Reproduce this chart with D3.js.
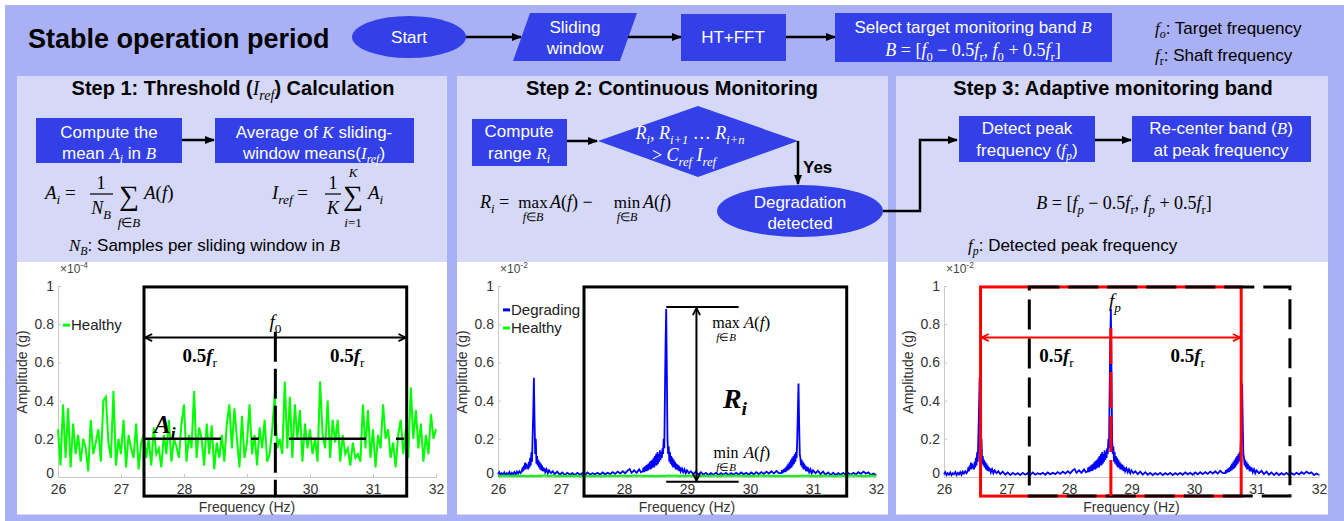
<!DOCTYPE html>
<html>
<head>
<meta charset="utf-8">
<script src="https://cdn.jsdelivr.net/npm/d3@7"></script>
<style>
  body { margin: 0; background: #fff; }
</style>
</head>
<body>
<svg id="fig" width="1344" height="521"></svg>
<script>
const SANS = '"Liberation Sans", Arial, sans-serif';
const SERIF = '"Liberation Serif", "Times New Roman", serif';
const BG = "#aab0f4", PANEL = "#d6d8f8", BOX = "#3340e8";

// ---- data ----
const freqTicks = [26, 27, 28, 29, 30, 31, 32];
const ampTicks = [0, 0.2, 0.4, 0.6, 0.8, 1];
const ampTickLabels = ["0", "0.2", "0.4", "0.6", "0.8", "1"];

// healthy spectrum (x1e-4 g), one sample every 0.04 Hz from 26 Hz
const healthyStart = 26, healthyStep = 0.04;
const healthyAmp = [
  0.25, 0.06, 0.38, 0.10, 0.36, 0.05, 0.28, 0.12, 0.22, 0.08,
  0.20, 0.15, 0.03, 0.30, 0.12, 0.18, 0.25, 0.08, 0.40, 0.42,
  0.18, 0.10, 0.45, 0.06, 0.20, 0.12, 0.30, 0.05, 0.22, 0.15,
  0.10, 0.28, 0.04, 0.18, 0.22, 0.10, 0.20, 0.06, 0.26, 0.12,
  0.15, 0.05, 0.22, 0.12, 0.30, 0.08, 0.20, 0.16, 0.10, 0.28,
  0.38, 0.08, 0.22, 0.15, 0.45, 0.10, 0.26, 0.20, 0.06, 0.28,
  0.12, 0.27, 0.04, 0.18, 0.10, 0.22, 0.08, 0.28, 0.38, 0.15,
  0.36, 0.20, 0.05, 0.32, 0.10, 0.18, 0.38, 0.12, 0.22, 0.06,
  0.26, 0.15, 0.30, 0.08, 0.12, 0.25, 0.43, 0.15, 0.20, 0.12,
  0.50, 0.15, 0.42, 0.10, 0.38, 0.20, 0.35, 0.08, 0.28, 0.15,
  0.25, 0.12, 0.20, 0.08, 0.50, 0.22, 0.15, 0.40, 0.10, 0.30,
  0.18, 0.30, 0.08, 0.22, 0.12, 0.15, 0.06, 0.18, 0.10, 0.12,
  0.08, 0.38, 0.15, 0.35, 0.10, 0.25, 0.05, 0.22, 0.15, 0.38,
  0.20, 0.25, 0.10, 0.18, 0.05, 0.22, 0.30, 0.12, 0.25, 0.10,
  0.47, 0.20, 0.35, 0.15, 0.28, 0.08, 0.22, 0.12, 0.33, 0.20,
  0.25
];

// degrading spectrum (x1e-2 g), [frequency Hz, amplitude]
const degrading = [
  [26.00,0.015],[26.02,0.025],[26.04,0.01],[26.06,0.02],[26.08,0.012],[26.10,0.024],[26.12,0.01],[26.14,0.02],
  [26.16,0.015],[26.18,0.026],[26.20,0.01],[26.22,0.022],[26.24,0.014],[26.26,0.025],[26.28,0.012],[26.30,0.028],
  [26.32,0.018],[26.34,0.03],[26.36,0.02],
  [26.38,0.03],[26.39,0.05],[26.40,0.03],[26.41,0.06],[26.42,0.04],[26.43,0.075],[26.44,0.04],[26.45,0.07],
  [26.46,0.05],[26.47,0.06],[26.48,0.04],[26.49,0.08],[26.50,0.05],[26.51,0.1],[26.52,0.06],[26.53,0.13],
  [26.54,0.08],[26.55,0.22],[26.56,0.35],[26.57,0.52],[26.58,0.3],[26.59,0.12],[26.60,0.2],[26.61,0.07],
  [26.62,0.11],[26.63,0.06],[26.64,0.09],[26.65,0.05],[26.66,0.08],[26.67,0.04],[26.68,0.07],[26.69,0.035],
  [26.70,0.06],[26.71,0.03],[26.72,0.05],[26.73,0.03],[26.74,0.045],[26.75,0.025],[26.77,0.04],[26.79,0.02],
  [26.81,0.035],[26.84,0.02],[26.87,0.03],
  [26.90,0.015],[26.94,0.028],[26.98,0.012],[27.02,0.024],[27.06,0.01],[27.10,0.022],[27.14,0.012],[27.18,0.02],
  [27.22,0.01],[27.26,0.022],[27.30,0.012],[27.34,0.02],[27.38,0.01],[27.42,0.024],[27.46,0.012],[27.50,0.02],
  [27.54,0.014],[27.58,0.022],[27.62,0.012],[27.66,0.024],[27.70,0.014],[27.74,0.022],[27.78,0.015],[27.82,0.026],
  [27.86,0.016],[27.90,0.028],[27.94,0.018],[27.98,0.03],[28.02,0.02],[28.06,0.035],[28.09,0.042],[28.12,0.022],
  [28.16,0.035],[28.20,0.022],[28.24,0.04],[28.27,0.025],
  [28.30,0.03],[28.31,0.05],[28.32,0.025],[28.33,0.055],[28.34,0.03],[28.35,0.06],[28.36,0.03],[28.37,0.065],
  [28.38,0.035],[28.39,0.07],[28.40,0.04],[28.41,0.08],[28.42,0.04],[28.43,0.085],[28.44,0.045],[28.45,0.09],
  [28.46,0.05],[28.47,0.1],[28.48,0.05],[28.49,0.11],[28.50,0.06],[28.51,0.12],[28.52,0.06],[28.53,0.13],
  [28.54,0.07],[28.55,0.12],[28.56,0.08],[28.57,0.14],[28.58,0.09],[28.59,0.13],[28.60,0.1],[28.61,0.15],
  [28.62,0.12],[28.63,0.2],[28.64,0.15],[28.65,0.45],[28.66,0.7],[28.67,0.88],[28.68,0.55],[28.69,0.2],
  [28.70,0.12],[28.71,0.16],[28.72,0.08],[28.73,0.13],[28.74,0.07],[28.75,0.11],[28.76,0.06],[28.77,0.1],
  [28.78,0.05],[28.79,0.09],[28.80,0.05],[28.81,0.08],[28.82,0.04],[28.83,0.07],[28.84,0.04],[28.85,0.065],
  [28.86,0.035],[28.87,0.06],[28.88,0.03],[28.89,0.05],[28.90,0.03],[28.92,0.045],[28.94,0.025],[28.96,0.04],
  [28.98,0.02],[29.00,0.035],[29.03,0.02],[29.06,0.03],
  [29.10,0.015],[29.14,0.028],[29.18,0.012],[29.22,0.025],[29.26,0.012],[29.30,0.022],[29.34,0.01],[29.38,0.02],
  [29.42,0.012],[29.46,0.022],[29.50,0.01],[29.54,0.02],[29.58,0.012],[29.62,0.022],[29.66,0.01],[29.70,0.02],
  [29.74,0.012],[29.78,0.022],[29.82,0.012],[29.86,0.024],[29.90,0.014],[29.94,0.022],[29.98,0.012],[30.02,0.024],
  [30.06,0.014],[30.10,0.025],[30.14,0.015],[30.18,0.026],[30.22,0.016],[30.26,0.028],[30.30,0.018],[30.34,0.03],
  [30.38,0.018],[30.42,0.032],[30.46,0.02],
  [30.50,0.02],[30.51,0.035],[30.52,0.02],[30.53,0.04],[30.54,0.025],[30.55,0.045],[30.56,0.025],[30.57,0.05],
  [30.58,0.03],[30.59,0.06],[30.60,0.035],[30.61,0.07],[30.62,0.04],[30.63,0.08],[30.64,0.045],[30.65,0.09],
  [30.66,0.05],[30.67,0.1],[30.68,0.06],[30.69,0.11],[30.70,0.07],[30.71,0.12],[30.72,0.08],[30.73,0.13],
  [30.74,0.1],[30.75,0.2],[30.76,0.35],[30.77,0.49],[30.78,0.28],[30.79,0.12],[30.80,0.1],[30.81,0.06],
  [30.82,0.09],[30.83,0.05],[30.84,0.08],[30.85,0.04],[30.86,0.07],[30.87,0.04],[30.88,0.06],[30.89,0.03],
  [30.90,0.055],[30.91,0.03],[30.92,0.05],[30.94,0.025],[30.96,0.04],[30.98,0.02],[31.00,0.035],
  [31.04,0.02],[31.08,0.032],[31.12,0.015],[31.16,0.028],[31.20,0.012],[31.24,0.024],[31.28,0.01],[31.32,0.022],
  [31.36,0.01],[31.40,0.02],[31.44,0.012],[31.48,0.022],[31.52,0.01],[31.56,0.02],[31.60,0.012],[31.64,0.022],
  [31.68,0.014],[31.72,0.025],[31.76,0.016],[31.80,0.028],[31.84,0.018],[31.88,0.024],[31.92,0.01],[31.96,0.018],
  [32.00,0.01]
];

const f0 = 29.45, fr = 4.17, fp = 28.67;      // target, shaft and peak frequency (Hz)
const meanAmp = 0.2, maxAmp = 0.89, minAmp = -0.025;

const svg = d3.select("#fig");

// markers
const defs = svg.append("defs");
defs.append("marker").attr("id", "tri").attr("viewBox", "0 0 10 10")
  .attr("refX", 9).attr("refY", 5).attr("markerWidth", 4).attr("markerHeight", 4)
  .attr("orient", "auto-start-reverse")
  .append("path").attr("d", "M0,1L10,5L0,9Z").attr("fill", "#000");
[["chev", "#000"], ["chevRed", "#ff0000"]].forEach(([id, col]) => {
  defs.append("marker").attr("id", id).attr("viewBox", "0 0 10 10")
    .attr("refX", 9).attr("refY", 5).attr("markerWidth", 9).attr("markerHeight", 9)
    .attr("markerUnits", "userSpaceOnUse").attr("orient", "auto-start-reverse")
    .append("path").attr("d", "M1,1L9,5L1,9").attr("fill", "none")
    .attr("stroke", col).attr("stroke-width", 2);
});

// text with math pieces: [string, style]  M=serif i=italic b=bold _=sub ^=sup
function rich(g, x, y, parts, o = {}) {
  const size = o.size || 17;
  const t = g.append("text").attr("x", x).attr("y", y)
    .attr("text-anchor", o.anchor || "start")
    .attr("fill", o.fill || "#000")
    .attr("font-size", size);
  let shift = 0;
  parts.forEach(([str, st = ""]) => {
    const s = st.includes("_") ? 0.25 : st.includes("^") ? -0.4 : 0;
    const sp = t.append("tspan").text(str)
      .attr("font-family", st.includes("M") ? SERIF : SANS)
      .attr("font-style", st.includes("i") ? "italic" : "normal")
      .attr("font-weight", st.includes("b") || (o.bold && !st.includes("M")) ? "bold" : "normal")
      .attr("font-size", s ? size * 0.7 : size);
    if (s !== shift) sp.attr("dy", (s - shift) * size);
    shift = s;
  });
  return t;
}

function arrow(points, col = "#000", w = 2.5) {
  svg.append("path").attr("d", d3.line()(points)).attr("fill", "none")
    .attr("stroke", col).attr("stroke-width", w).attr("marker-end", "url(#tri)");
}

// ---- background and panels ----
svg.append("rect").attr("x", 5).attr("y", 5).attr("width", 1339).attr("height", 516).attr("fill", BG);
const panels = [[17, 447], [457, 888], [896, 1328]];
panels.forEach(([a, b]) => {
  svg.append("rect").attr("x", a).attr("y", 76).attr("width", b - a).attr("height", 439).attr("fill", PANEL);
  svg.append("rect").attr("x", a).attr("y", 262).attr("width", b - a).attr("height", 252).attr("fill", "#fff");
});

// ---- top flow ----
svg.append("text").attr("x", 28).attr("y", 48).text("Stable operation period")
  .attr("font-family", SANS).attr("font-weight", "bold").attr("font-size", 27);

svg.append("ellipse").attr("cx", 409).attr("cy", 37).attr("rx", 57).attr("ry", 21).attr("fill", BOX);
rich(svg, 409, 43, [["Start"]], { anchor: "middle", fill: "#fff" });
arrow([[466, 37], [521, 37]]);
svg.append("polygon").attr("points", "530,13 637,13 620,61 513,61").attr("fill", BOX);
rich(svg, 575, 33, [["Sliding"]], { anchor: "middle", fill: "#fff" });
rich(svg, 575, 54, [["window"]], { anchor: "middle", fill: "#fff" });
arrow([[628, 37], [681, 37]]);
svg.append("rect").attr("x", 681).attr("y", 14).attr("width", 105).attr("height", 47).attr("fill", BOX);
rich(svg, 733, 43, [["HT+FFT"]], { anchor: "middle", fill: "#fff" });
arrow([[786, 37], [835, 37]]);
svg.append("rect").attr("x", 835).attr("y", 13).attr("width", 277).attr("height", 49).attr("fill", BOX);
rich(svg, 973, 33, [["Select target monitoring band "], ["B", "Mi"]], { anchor: "middle", fill: "#fff" });
rich(svg, 973, 56, [["B", "Mi"], [" = [", "M"], ["f", "Mi"], ["0", "M_"], [" − 0.5", "M"], ["f", "Mi"], ["r", "M_"],
  [", ", "M"], ["f", "Mi"], ["0", "M_"], [" + 0.5", "M"], ["f", "Mi"], ["r", "M_"], ["]", "M"]],
  { anchor: "middle", fill: "#fff", size: 18 });
rich(svg, 1155, 34, [["f", "Mi"], ["o", "Mi_"], [": Target frequency"]]);
rich(svg, 1155, 61, [["f", "Mi"], ["r", "M_"], [": Shaft frequency"]]);

// ---- step titles ----
rich(svg, 233, 95, [["Step 1: Threshold ("], ["I", "Mi"], ["ref", "Mi_"], [") Calculation"]], { anchor: "middle", bold: true, size: 20 });
rich(svg, 672, 95, [["Step 2: Continuous Monitoring"]], { anchor: "middle", bold: true, size: 20 });
rich(svg, 1113, 95, [["Step 3: Adaptive monitoring band"]], { anchor: "middle", bold: true, size: 20 });

// ---- step 1 flow ----
svg.append("rect").attr("x", 36).attr("y", 118).attr("width", 146).attr("height", 45).attr("fill", BOX);
rich(svg, 109, 138, [["Compute the"]], { anchor: "middle", fill: "#fff" });
rich(svg, 109, 159, [["mean "], ["A", "Mi"], ["i", "Mi_"], [" in "], ["B", "Mi"]], { anchor: "middle", fill: "#fff" });
arrow([[182, 140], [214, 140]]);
svg.append("rect").attr("x", 215).attr("y", 118).attr("width", 199).attr("height", 45).attr("fill", BOX);
rich(svg, 314, 138, [["Average of "], ["K", "Mi"], [" sliding-"]], { anchor: "middle", fill: "#fff" });
rich(svg, 314, 159, [["window means("], ["I", "Mi"], ["ref", "Mi_"], [")"]], { anchor: "middle", fill: "#fff" });

// A_i = 1/N_B sum A(f)
rich(svg, 45, 199, [["A", "Mi"], ["i", "Mi_"], [" =", "M"]], { size: 19 });
rich(svg, 101, 189, [["1", "M"]], { anchor: "middle", size: 18 });
svg.append("line").attr("x1", 90).attr("x2", 113).attr("y1", 194).attr("y2", 194).attr("stroke", "#000").attr("stroke-width", 1.2);
rich(svg, 101, 214, [["N", "Mi"], ["B", "Mi_"]], { anchor: "middle", size: 18 });
rich(svg, 129, 205, [["∑", "M"]], { anchor: "middle", size: 28 });
rich(svg, 129, 227, [["f", "Mi"], ["∈", "M"], ["B", "Mi"]], { anchor: "middle", size: 13 });
rich(svg, 144, 199, [["A", "Mi"], ["(", "M"], ["f", "Mi"], [")", "M"]], { size: 19 });
// I_ref = 1/K sum A_i
rich(svg, 272, 199, [["I", "Mi"], ["ref", "Mi_"], [" =", "M"]], { size: 19 });
rich(svg, 333, 189, [["1", "M"]], { anchor: "middle", size: 18 });
svg.append("line").attr("x1", 325).attr("x2", 341).attr("y1", 194).attr("y2", 194).attr("stroke", "#000").attr("stroke-width", 1.2);
rich(svg, 333, 214, [["K", "Mi"]], { anchor: "middle", size: 18 });
rich(svg, 353, 205, [["∑", "M"]], { anchor: "middle", size: 28 });
rich(svg, 353, 177, [["K", "Mi"]], { anchor: "middle", size: 13 });
rich(svg, 353, 227, [["i", "Mi"], ["=1", "M"]], { anchor: "middle", size: 13 });
rich(svg, 368, 199, [["A", "Mi"], ["i", "Mi_"]], { size: 19 });
rich(svg, 69, 251, [["N", "Mi"], ["B", "Mi_"], [": Samples per sliding window in "], ["B", "Mi"]]);

// ---- step 2 flow ----
svg.append("rect").attr("x", 472).attr("y", 119).attr("width", 95).attr("height", 47).attr("fill", BOX);
rich(svg, 519, 137, [["Compute"]], { anchor: "middle", fill: "#fff" });
rich(svg, 519, 159, [["range "], ["R", "Mi"], ["i", "Mi_"]], { anchor: "middle", fill: "#fff" });
arrow([[567, 141], [597, 141]]);
svg.append("polygon").attr("points", "598,141 698,106 798,141 698,177").attr("fill", BOX);
rich(svg, 690, 139, [["R", "Mi"], ["i", "Mi_"], [", ", "M"], ["R", "Mi"], ["i+1", "Mi_"], [" … ", "M"], ["R", "Mi"], ["i+n", "Mi_"]],
  { anchor: "middle", fill: "#fff", size: 18 });
rich(svg, 684, 161, [["> ", "M"], ["C", "Mi"], ["ref", "Mi_"], [" ", "M"], ["I", "Mi"], ["ref", "Mi_"]],
  { anchor: "middle", fill: "#fff", size: 18 });
arrow([[798, 141], [798, 184]]);
rich(svg, 803, 173, [["Yes"]], { bold: true });
svg.append("ellipse").attr("cx", 800).attr("cy", 211).attr("rx", 83).attr("ry", 26).attr("fill", BOX);
rich(svg, 800, 208, [["Degradation"]], { anchor: "middle", fill: "#fff" });
rich(svg, 800, 229, [["detected"]], { anchor: "middle", fill: "#fff" });
arrow([[883, 211], [920, 211], [920, 140], [957, 140]]);

// R_i = max A(f) - min A(f)
rich(svg, 480, 208, [["R", "Mi"], ["i", "Mi_"], [" =", "M"]], { size: 18 });
rich(svg, 533, 208, [["max", "M"]], { anchor: "middle", size: 17 });
rich(svg, 533, 221, [["f", "Mi"], ["∈", "M"], ["B", "Mi"]], { anchor: "middle", size: 12 });
rich(svg, 550, 208, [["A", "Mi"], ["(", "M"], ["f", "Mi"], [")", "M"], [" −", "M"]], { size: 18 });
rich(svg, 627, 208, [["min", "M"]], { anchor: "middle", size: 17 });
rich(svg, 627, 221, [["f", "Mi"], ["∈", "M"], ["B", "Mi"]], { anchor: "middle", size: 12 });
rich(svg, 643, 208, [["A", "Mi"], ["(", "M"], ["f", "Mi"], [")", "M"]], { size: 18 });

// ---- step 3 flow ----
svg.append("rect").attr("x", 959).attr("y", 116).attr("width", 136).attr("height", 46).attr("fill", BOX);
rich(svg, 1027, 134, [["Detect peak"]], { anchor: "middle", fill: "#fff" });
rich(svg, 1027, 156, [["frequency ("], ["f", "Mi"], ["p", "Mi_"], [")"]], { anchor: "middle", fill: "#fff" });
arrow([[1095, 140], [1131, 140]]);
svg.append("rect").attr("x", 1132).attr("y", 116).attr("width", 179).attr("height", 46).attr("fill", BOX);
rich(svg, 1221, 134, [["Re-center band ("], ["B", "Mi"], [")"]], { anchor: "middle", fill: "#fff" });
rich(svg, 1221, 156, [["at peak frequency"]], { anchor: "middle", fill: "#fff" });
rich(svg, 1124, 209, [["B", "Mi"], [" = [", "M"], ["f", "Mi"], ["p", "Mi_"], [" − 0.5", "M"], ["f", "Mi"], ["r", "M_"],
  [", ", "M"], ["f", "Mi"], ["p", "Mi_"], [" + 0.5", "M"], ["f", "Mi"], ["r", "M_"], ["]", "M"]], { anchor: "middle", size: 18 });
rich(svg, 968, 251, [["f", "Mi"], ["p", "Mi_"], [": Detected peak frequency"]]);

// ---- charts ----
const charts = [
  { left: 58, right: 436, exp: "-4" },
  { left: 498, right: 876, exp: "-2" },
  { left: 944, right: 1319, exp: "-2" }
];

function makeChart(c) {
  const x = d3.scaleLinear().domain([26, 32]).range([c.left, c.right]);
  const y = d3.scaleLinear().domain([0, 1]).range([477, 286]);
  const g = svg.append("g");
  const ax = g.append("g").attr("transform", `translate(0,${y(0)})`)
    .call(d3.axisBottom(x).tickValues(freqTicks).tickSize(-3).tickSizeOuter(0).tickPadding(7).tickFormat(d3.format("d")));
  const ay = g.append("g").attr("transform", `translate(${c.left},0)`)
    .call(d3.axisLeft(y).tickValues(ampTicks).tickSize(-3).tickSizeOuter(0).tickPadding(4).tickFormat((d, i) => ampTickLabels[i]));
  [ax, ay].forEach(a => {
    a.selectAll("path, line").attr("stroke", "#c8c8c8");
    a.selectAll("text").attr("fill", "#333").attr("font-size", 14).attr("font-family", SANS);
  });
  // MATLAB lifts the zero label slightly above the frequency ticks
  ay.selectAll(".tick text").filter(d => d === 0).attr("dy", "0.05em");
  rich(g, c.left + 2, 273, [["×10"], [c.exp, "^"]], { size: 12, fill: "#444" });
  g.append("text").attr("transform", `translate(${c.left - 31},${372}) rotate(-90)`)
    .attr("text-anchor", "middle").attr("font-family", SANS).attr("font-size", 14).attr("fill", "#333")
    .text("Amplitude (g)");
  g.append("text").attr("x", (c.left + c.right) / 2).attr("y", 512)
    .attr("text-anchor", "middle").attr("font-family", SANS).attr("font-size", 14).attr("fill", "#333")
    .text("Frequency (Hz)");
  return { x, y, g };
}

function legendItem(ch, yv, col, label) {
  const yy = ch.y(yv), x0 = ch.x.range()[0];
  ch.g.append("line").attr("x1", x0 + 5).attr("x2", x0 + 12).attr("y1", yy).attr("y2", yy)
    .attr("stroke", col).attr("stroke-width", 3);
  ch.g.append("text").attr("x", x0 + 13).attr("y", yy + 5).text(label)
    .attr("font-family", SANS).attr("font-size", 15).attr("fill", "#222");
}

const bandLo = f0 - fr / 2, bandHi = f0 + fr / 2;
const newLo = fp - fr / 2, newHi = fp + fr / 2;

// chart 1: healthy
const c1 = makeChart(charts[0]);
c1.g.append("path").datum(healthyAmp)
  .attr("d", d3.line().x((d, i) => c1.x(healthyStart + i * healthyStep)).y(d => c1.y(d)))
  .attr("fill", "none").attr("stroke", "#00ff00").attr("stroke-width", 2);
c1.g.append("rect").attr("x", c1.x(bandLo)).attr("y", c1.y(0.995))
  .attr("width", c1.x(bandHi) - c1.x(bandLo)).attr("height", c1.y(-0.1) - c1.y(0.995))
  .attr("fill", "none").attr("stroke", "#000").attr("stroke-width", 3);
c1.g.append("line").attr("x1", c1.x(f0)).attr("x2", c1.x(f0)).attr("y1", c1.y(0.76)).attr("y2", c1.y(-0.1))
  .attr("stroke", "#000").attr("stroke-width", 3).attr("stroke-dasharray", "30,7");
c1.g.append("line").attr("x1", c1.x(bandLo) + 1).attr("x2", c1.x(bandHi) - 1).attr("y1", c1.y(0.73)).attr("y2", c1.y(0.73))
  .attr("stroke", "#000").attr("stroke-width", 2)
  .attr("marker-start", "url(#chev)").attr("marker-end", "url(#chev)");
c1.g.append("line").attr("x1", c1.x(bandLo)).attr("x2", c1.x(bandHi)).attr("y1", c1.y(meanAmp)).attr("y2", c1.y(meanAmp))
  .attr("stroke", "#000").attr("stroke-width", 2.5).attr("stroke-dasharray", "77,30,8,30");
rich(c1.g, c1.x(f0), c1.y(0.78), [["f", "Mi"], ["0", "M_"]], { anchor: "middle", size: 19 });
rich(c1.g, c1.x(28.25), c1.y(0.6), [["0.5", "Mb"], ["f", "Mbi"], ["r", "M_"]], { anchor: "middle", size: 19 });
rich(c1.g, c1.x(30.59), c1.y(0.6), [["0.5", "Mb"], ["f", "Mbi"], ["r", "M_"]], { anchor: "middle", size: 19 });
rich(c1.g, c1.x(bandLo) + 10, c1.y(0.23), [["A", "Mbi"], ["i", "Mbi_"]], { size: 25 });
legendItem(c1, 0.795, "#00ff00", "Healthy");

// chart 2: degrading vs healthy
const c2 = makeChart(charts[1]);
const specLine = ch => d3.line().x(d => ch.x(d[0])).y(d => ch.y(d[1]));
c2.g.append("path").datum(degrading).attr("d", specLine(c2))
  .attr("fill", "none").attr("stroke", "#0000ff").attr("stroke-width", 1.8);
c2.g.append("path").datum(healthyAmp)
  .attr("d", d3.line().x((d, i) => c2.x(healthyStart + i * healthyStep)).y(d => c2.y(d / 100 + 0.004)))
  .attr("fill", "none").attr("stroke", "#00ff00").attr("stroke-width", 2);
c2.g.append("rect").attr("x", c2.x(bandLo)).attr("y", c2.y(0.995))
  .attr("width", c2.x(bandHi) - c2.x(bandLo)).attr("height", c2.y(-0.1) - c2.y(0.995))
  .attr("fill", "none").attr("stroke", "#000").attr("stroke-width", 3);
[maxAmp, minAmp].forEach(v => {
  c2.g.append("line").attr("x1", c2.x(fp)).attr("x2", c2.x(fp + 1.15)).attr("y1", c2.y(v)).attr("y2", c2.y(v))
    .attr("stroke", "#000").attr("stroke-width", 2);
});
c2.g.append("line").attr("x1", c2.x(29.15)).attr("x2", c2.x(29.15)).attr("y1", c2.y(maxAmp) + 1).attr("y2", c2.y(minAmp) - 1)
  .attr("stroke", "#000").attr("stroke-width", 2)
  .attr("marker-start", "url(#chev)").attr("marker-end", "url(#chev)");
rich(c2.g, c2.x(29.62), c2.y(0.78), [["max", "M"]], { anchor: "middle", size: 16 });
rich(c2.g, c2.x(29.62), c2.y(0.71), [["f", "Mi"], ["∈", "M"], ["B", "Mi"]], { anchor: "middle", size: 11 });
rich(c2.g, c2.x(29.9), c2.y(0.78), [["A", "Mi"], ["(", "M"], ["f", "Mi"], [")", "M"]], { size: 17 });
rich(c2.g, c2.x(29.62), c2.y(0.1), [["min", "M"]], { anchor: "middle", size: 16 });
rich(c2.g, c2.x(29.62), c2.y(0.03), [["f", "Mi"], ["∈", "M"], ["B", "Mi"]], { anchor: "middle", size: 11 });
rich(c2.g, c2.x(29.9), c2.y(0.1), [["A", "Mi"], ["(", "M"], ["f", "Mi"], [")", "M"]], { size: 17 });
rich(c2.g, c2.x(29.57), c2.y(0.36), [["R", "Mbi"], ["i", "Mbi_"]], { size: 28 });
legendItem(c2, 0.875, "#0000ff", "Degrading");
legendItem(c2, 0.78, "#00ff00", "Healthy");

// chart 3: adaptive band
const c3 = makeChart(charts[2]);
c3.g.append("path").datum(degrading).attr("d", specLine(c3))
  .attr("fill", "none").attr("stroke", "#0000ff").attr("stroke-width", 1.8);
c3.g.append("rect").attr("x", c3.x(newLo)).attr("y", c3.y(0.995))
  .attr("width", c3.x(newHi) - c3.x(newLo)).attr("height", c3.y(-0.1) - c3.y(0.995))
  .attr("fill", "none").attr("stroke", "#ff0000").attr("stroke-width", 3);
c3.g.append("rect").attr("x", c3.x(bandLo)).attr("y", c3.y(0.995))
  .attr("width", c3.x(bandHi) - c3.x(bandLo)).attr("height", c3.y(-0.1) - c3.y(0.995))
  .attr("fill", "none").attr("stroke", "#000").attr("stroke-width", 3).attr("stroke-dasharray", "30,9");
c3.g.append("line").attr("x1", c3.x(fp)).attr("x2", c3.x(fp)).attr("y1", c3.y(0.78)).attr("y2", c3.y(-0.1))
  .attr("stroke", "#ff0000").attr("stroke-width", 3).attr("stroke-dasharray", "36,8");
c3.g.append("line").attr("x1", c3.x(newLo) + 1).attr("x2", c3.x(newHi) - 1).attr("y1", c3.y(0.73)).attr("y2", c3.y(0.73))
  .attr("stroke", "#ff0000").attr("stroke-width", 2)
  .attr("marker-start", "url(#chevRed)").attr("marker-end", "url(#chevRed)");
rich(c3.g, c3.x(fp) + 4, c3.y(0.89), [["f", "Mi"], ["p", "Mi_"]], { anchor: "middle", size: 19 });
rich(c3.g, c3.x(27.8), c3.y(0.6), [["0.5", "Mb"], ["f", "Mbi"], ["r", "M_"]], { anchor: "middle", size: 19 });
rich(c3.g, c3.x(29.9), c3.y(0.6), [["0.5", "Mb"], ["f", "Mbi"], ["r", "M_"]], { anchor: "middle", size: 19 });
</script>
</body>
</html>
